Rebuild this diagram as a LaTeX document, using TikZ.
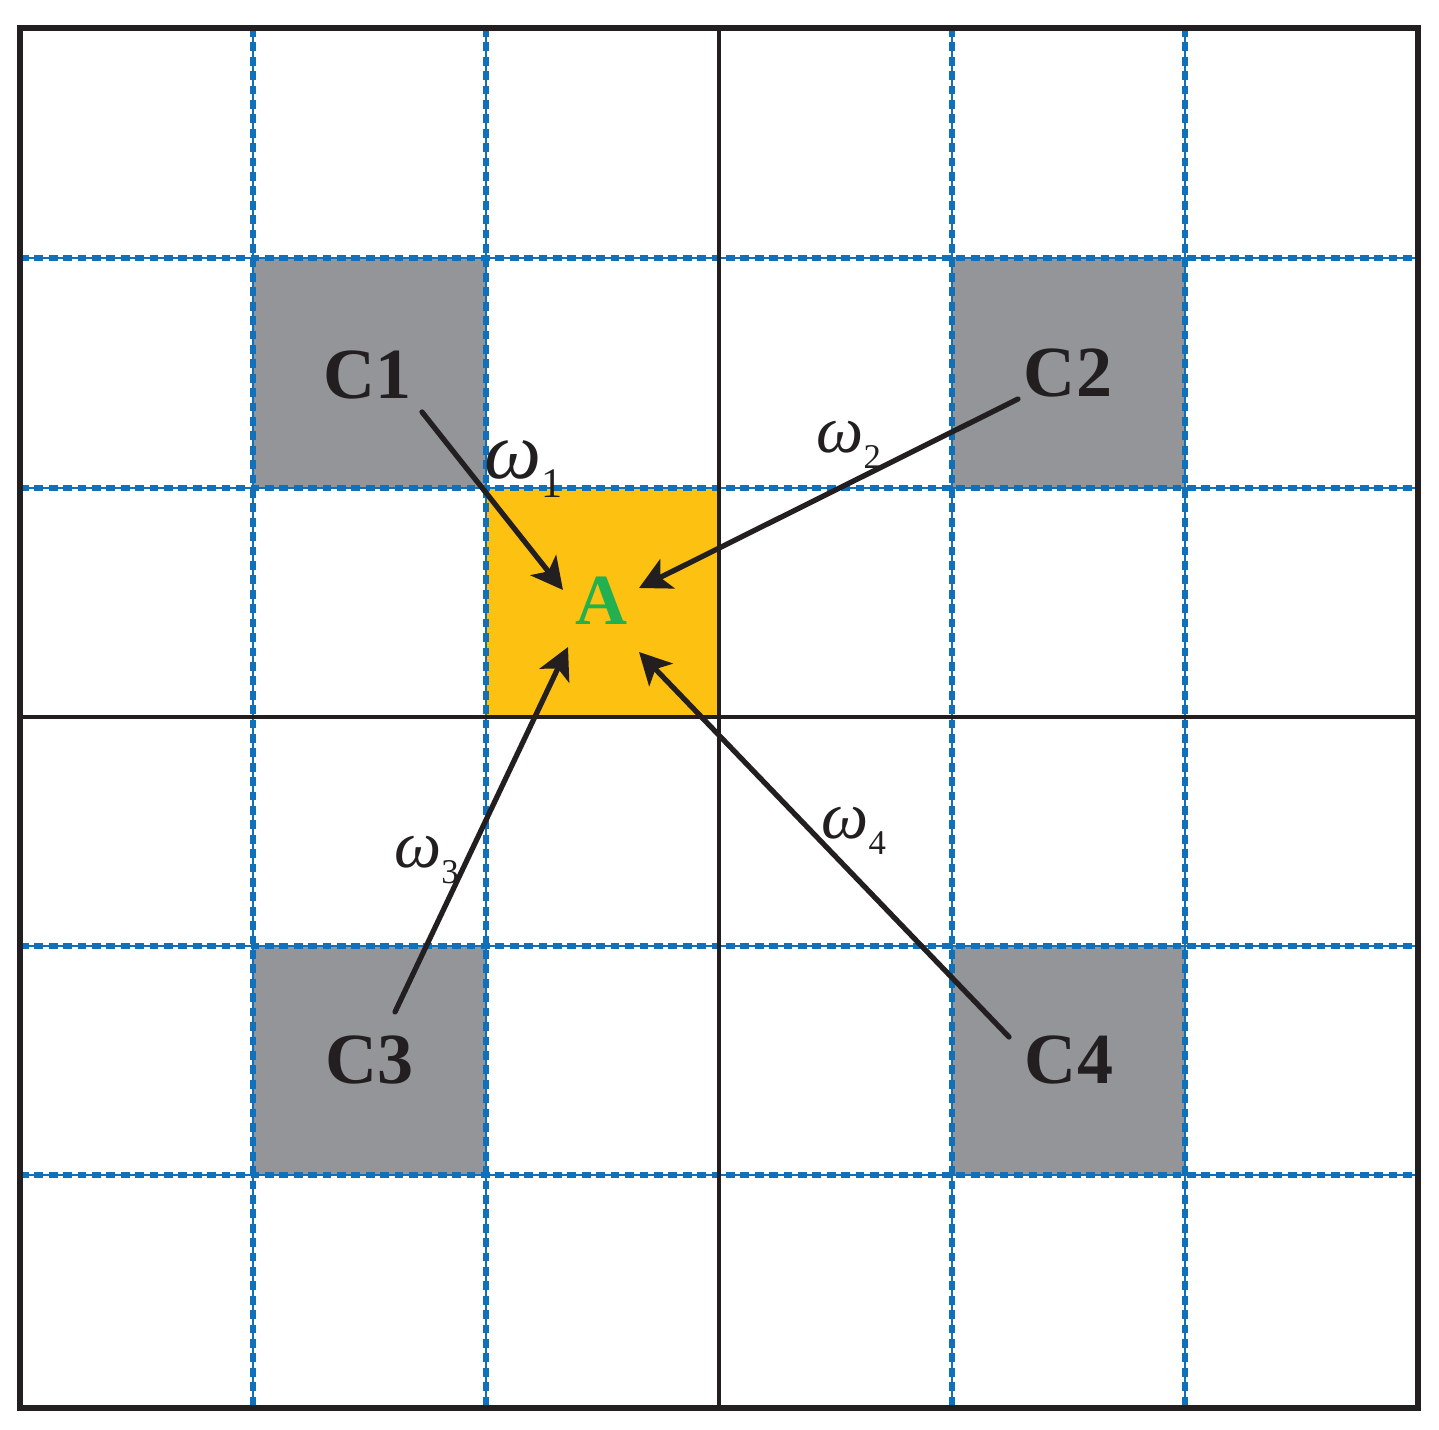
\documentclass[tikz,border=0pt]{standalone}
\usepackage{fontspec}
\usepackage{graphicx}
\setmainfont{Liberation Serif}
\usetikzlibrary{arrows.meta}
\definecolor{gridblue}{RGB}{16,112,186}
\definecolor{cellgray}{RGB}{148,149,153}
\definecolor{cellyellow}{RGB}{253,193,18}
\definecolor{agreen}{RGB}{35,176,80}
\definecolor{inkblack}{RGB}{35,31,32}
\newcommand{\wt}[1]{{\itshape ω}\raisebox{-0.24em}{\scalebox{0.52}{#1}}}

\begin{document}
\begin{tikzpicture}[
		x=0.02cm, y=-0.02cm,
		gridline/.style={draw=gridblue, line width=3pt, dash pattern=on 5pt off 3.2pt,
			preaction={draw=gridblue, line width=0.7pt, solid}},
		frame/.style={draw=inkblack, line width=3.4pt, line join=miter},
		midline/.style={draw=inkblack, line width=2.6pt},
		clabel/.style={font=\fontsize{41}{41}\selectfont\bfseries, text=inkblack, inner sep=0pt},
		wlabel/.style={font=\fontsize{38}{38}\selectfont, text=inkblack, anchor=base west, inner sep=0pt},
		arrow/.style={-{Stealth[length=18pt, width=18.5pt, inset=4.5pt]}, draw=inkblack, line width=3pt, line cap=round}
		]
		\useasboundingbox (0,0) rectangle (1439,1429);
		
		% ==========================================
		% CELLS
		% ==========================================
		\fill[cellgray] (253,258) rectangle (486,488);
		\fill[cellgray] (952,258) rectangle (1185,488);
		\fill[cellgray] (253,946) rectangle (486,1175);
		\fill[cellgray] (952,946) rectangle (1185,1175);
		\fill[cellyellow] (486,488) rectangle (719,717);
		
		% ==========================================
		% GRID
		% ==========================================
		\foreach \x in {253,486,952,1185}
		\draw[gridline] (\x,28) -- (\x,1408);
		\foreach \y in {258,488,946,1175}
		\draw[gridline] (20,\y) -- (1418,\y);
		
		\draw[midline] (719,28) -- (719,1408);
		\draw[midline] (20,717) -- (1418,717);
		\draw[frame] (20,28) rectangle (1418,1408);
		
		% ==========================================
		% LABELS
		% ==========================================
		\node[clabel] (C1) at (368,375) {C1};
		\node[clabel] (C2) at (1068,373) {C2};
		\node[clabel] (C3) at (370,1060) {C3};
		\node[clabel] (C4) at (1069,1060) {C4};
		\node[clabel, text=agreen] (A) at (602,601) {A};
		
		% arrow ends
		\coordinate (s1) at (422,412);
		\coordinate (t1) at (563,590);
		\coordinate (s2) at (1018,399);
		\coordinate (t2) at (639,588);
		\coordinate (s3) at (395,1012);
		\coordinate (t3) at (568,647);
		\coordinate (s4) at (1009,1037);
		\coordinate (t4) at (639,652);
		
		\draw[arrow] (s1) -- (t1);
		\draw[arrow] (s2) -- (t2);
		\draw[arrow] (s3) -- (t3);
		\draw[arrow] (s4) -- (t4);
		
		% weights
		\node[wlabel, font=\fontsize{46}{46}\selectfont] (w1) at (484,478) {\wt{1}};
		\node[wlabel] (w2) at (816,452) {\wt{2}};
		\node[wlabel] (w3) at (394,867) {\wt{3}};
		\node[wlabel] (w4) at (821,838) {\wt{4}};
		
	\end{tikzpicture}
\end{document}
